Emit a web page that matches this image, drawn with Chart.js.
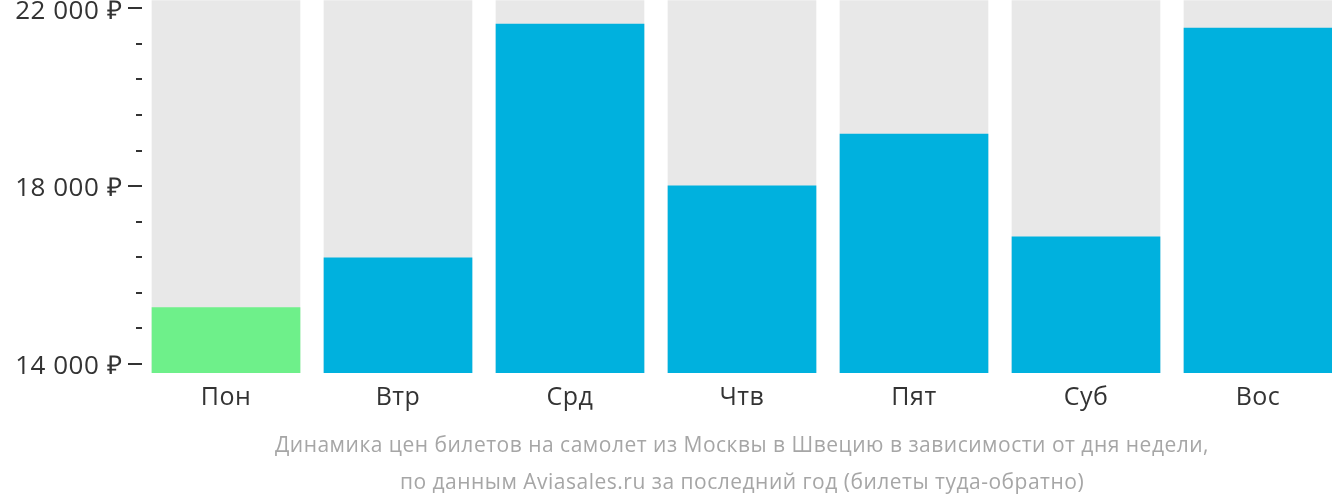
<!DOCTYPE html>
<html>
<head>
    <meta charset="utf-8">
    <title>Динамика цен билетов</title>
    <script src="https://cdn.jsdelivr.net/npm/chart.js"></script>
    <style>
        body {
            margin: 0;
            background: #fff;
            overflow: hidden;
            font-family: "Open Sans", sans-serif;
        }
        #wrap {
            width: 1344px;
            height: 502px;
        }
    </style>
</head>
<body>
    <div id="wrap"><canvas id="priceChart"></canvas></div>

    <script>
        // data
        var days = ['Пон', 'Втр', 'Срд', 'Чтв', 'Пят', 'Суб', 'Вос'];
        var prices = [15266, 16384, 21647, 18004, 19173, 16856, 21557];
        var tickValues = [14000, 14800, 15600, 16400, 17200, 18000, 18800, 19600, 20400, 21200, 22000];
        var labelledTicks = [14000, 18000, 22000];
        var yMin = 13790;
        var yMax = 22187;
        var titleLines = [
            'Динамика цен билетов на самолет из Москвы в Швецию в зависимости от дня недели,',
            'по данным Aviasales.ru за последний год (билеты туда-обратно)'
        ];

        var cheapest = Math.min.apply(null, prices);
        var barColors = prices.map(function (p) { return p === cheapest ? '#6ef08a' : '#00b1de'; });
        var track = days.map(function () { return yMax; });

        function fmt(v) {
            return String(v).replace(/\B(?=(\d{3})+(?!\d))/g, ' ') + ' ₽';
        }

        // text in the original is set a bit wider than Open Sans
        var spacing = {
            id: 'spacing',
            beforeDraw: function (chart) { chart.ctx.letterSpacing = '0.5px'; },
            beforeDatasetsDraw: function (chart) { chart.ctx.letterSpacing = '2px'; },
            afterDraw: function (chart) { chart.ctx.letterSpacing = '0px'; }
        };

        // small dashes on the left of the plot, long ones at the labelled values
        var tickMarks = {
            id: 'tickMarks',
            afterDraw: function (chart) {
                var y = chart.scales.y;
                var ctx = chart.ctx;
                ctx.save();
                ctx.strokeStyle = '#333';
                ctx.lineWidth = 2;
                tickValues.forEach(function (v) {
                    var py = Math.round(y.getPixelForValue(v));
                    var major = labelledTicks.indexOf(v) >= 0;
                    ctx.beginPath();
                    ctx.moveTo(major ? 128 : 136, py);
                    ctx.lineTo(142, py);
                    ctx.stroke();
                });
                ctx.restore();
            }
        };

        var ctx = document.getElementById('priceChart').getContext('2d');
        var chart = new Chart(ctx, {
            type: 'bar',
            data: {
                labels: days,
                datasets: [{
                    data: prices,
                    backgroundColor: barColors,
                    barThickness: 148,
                    grouped: false,
                    order: 0
                }, {
                    data: track,
                    backgroundColor: '#e8e8e8',
                    barThickness: 148,
                    grouped: false,
                    order: 1
                }]
            },
            options: {
                responsive: true,
                maintainAspectRatio: false,
                animation: false,
                layout: { padding: 0 },
                plugins: {
                    legend: { display: false },
                    tooltip: { enabled: false },
                    title: {
                        display: true,
                        position: 'bottom',
                        fullSize: false,
                        text: titleLines,
                        color: '#a6a6a6',
                        font: { family: 'Open Sans', size: 21, weight: 'normal', lineHeight: '37px' },
                        padding: 0
                    }
                },
                scales: {
                    x: {
                        z: 1,
                        grid: { display: false },
                        border: { display: false },
                        ticks: {
                            color: '#333',
                            padding: 2,
                            font: { family: 'Open Sans', size: 25 }
                        },
                        afterFit: function (s) { s.height = 55; }
                    },
                    y: {
                        z: 1,
                        min: yMin,
                        max: yMax,
                        grid: { display: false, drawTicks: true, tickLength: 18 },
                        border: { display: false },
                        afterBuildTicks: function (s) {
                            s.ticks = tickValues.map(function (v) { return { value: v }; });
                        },
                        ticks: {
                            autoSkip: false,
                            color: '#333',
                            padding: 0,
                            labelOffset: 3,
                            // tiny line height so the scale adds no room above the plot
                            font: { family: 'Open Sans', size: 26, lineHeight: 0.01 },
                            callback: function (v) {
                                return labelledTicks.indexOf(v) >= 0 ? fmt(v) : '';
                            }
                        },
                        afterFit: function (s) { s.width = 140; }
                    }
                }
            },
            plugins: [spacing, tickMarks]
        });
    </script>
</body>
</html>
